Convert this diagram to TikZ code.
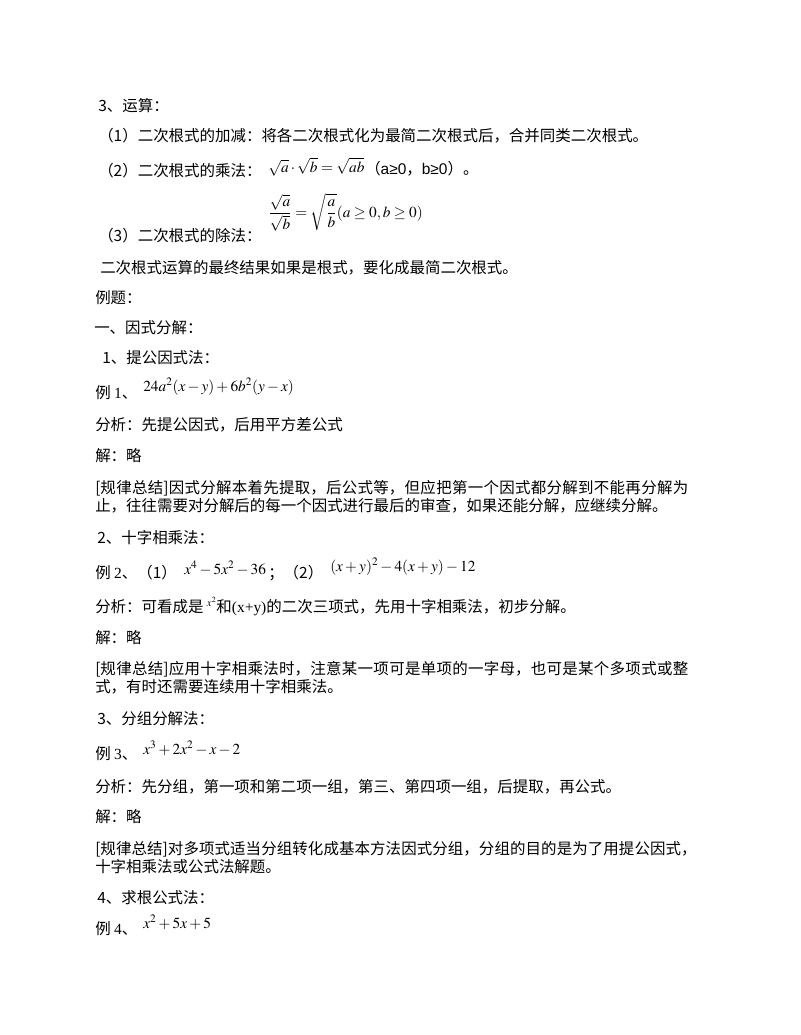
\documentclass[tikz,border=0pt]{standalone}
\usepackage{mathptmx}
\usepackage[no-math]{fontspec}
\setmainfont{Noto Sans CJK SC}
\newfontfamily\tms{Liberation Serif}
\newfontfamily\ars{Liberation Sans}
\XeTeXlinebreaklocale "zh"
\XeTeXlinebreakskip=0pt plus 1pt

\begin{document}
\begin{tikzpicture}[x=0.75pt,y=-0.75pt,
  txt/.style={anchor=base west,inner sep=0pt,font=\fontsize{11.6}{13.9}\selectfont},
  fml/.style={anchor=base west,inner sep=0pt,font=\fontsize{11.5}{13}\selectfont},
  para/.style={txt,text width=444.75pt,align=justify}]

\fill [white] (0,0) rectangle (800,1035);
\useasboundingbox (0,0) rectangle (800,1035);

\node (yunsuan) at (98,111) [txt] {3、运算：};
\node (jiajian) at (98,141) [txt] {（1）二次根式的加减：将各二次根式化为最简二次根式后，合并同类二次根式。};
\node (chengfa) at (98,176) [txt] {（2）二次根式的乘法：};
\node (chengfml) at (268,172) [fml] {$\sqrt{a}\cdot\sqrt{b}=\sqrt{ab}$};
\node (chengcond) at (365,174) [txt] {（{\ars a≥0}，{\ars b≥0}）。};
\node (chufml) at (268,217) [fml] {$\displaystyle\frac{\sqrt{a}}{\sqrt{b}}=\sqrt{\frac{a}{b}}(a\geq 0,b\geq 0)$};
\node (chufa) at (98,241) [txt] {（3）二次根式的除法：};
\node (zuizhong) at (100,273) [txt] {二次根式运算的最终结果如果是根式，要化成最简二次根式。};
\node (liti) at (95,303) [txt] {例题：};
\node (yinshi) at (94,333) [txt] {一、因式分解：};
\node (tigong) at (102,363) [txt] {1、提公因式法：};
\node (li1) at (95,398) [txt] {例 {\tms 1}、};
\node (li1fml) at (143,391) [fml] {$24a^{2}(x-y)+6b^{2}(y-x)$};
\node (fenxi1) at (95,430) [txt] {分析：先提公因式，后用平方差公式};
\node (jie1) at (95,461) [txt] {解：略};
\node (guilv1) at (95,493) [para] {\noindent[规律总结]因式分解本着先提取，后公式等，但应把第一个因式都分解到不能再分解为\linebreak 止，往往需要对分解后的每一个因式进行最后的审查，如果还能分解，应继续分解。};
\node (shizi) at (97,543) [txt] {2、十字相乘法：};
\node (li2) at (95,578) [txt] {例 {\tms 2}、（1）};
\node (li2fmla) at (184,574) [fml] {$x^{4}-5x^{2}-36$};
\node (li2mid) at (268,578) [txt] {；（2）};
\node (li2fmlb) at (330,571) [fml] {$(x+y)^{2}-4(x+y)-12$};
\node (fenxi2) at (95,612) [txt] {分析：可看成是 \raisebox{4pt}{\fontsize{8}{8}\selectfont$x^{2}$}和{\tms(x+y)}的二次三项式，先用十字相乘法，初步分解。};
\node (jie2) at (95,643) [txt] {解：略};
\node (guilv2) at (95,674) [para] {\noindent[规律总结]应用十字相乘法时，注意某一项可是单项的一字母，也可是某个多项式或整\linebreak 式，有时还需要连续用十字相乘法。};
\node (fenzu) at (97,724) [txt] {3、分组分解法：};
\node (li3) at (95,759) [txt] {例 {\tms 3}、};
\node (li3fml) at (143,754) [fml] {$x^{3}+2x^{2}-x-2$};
\node (fenxi3) at (95,792) [txt] {分析：先分组，第一项和第二项一组，第三、第四项一组，后提取，再公式。};
\node (jie3) at (95,822) [txt] {解：略};
\node (guilv3) at (95,854) [para,text width=451pt] {\noindent[规律总结]对多项式适当分组转化成基本方法因式分组，分组的目的是为了用提公因式，\linebreak 十字相乘法或公式法解题。};
\node (qiugen) at (97,903) [txt] {4、求根公式法：};
\node (li4) at (95,934) [txt] {例 {\tms 4}、};
\node (li4fml) at (143,928) [fml] {$x^{2}+5x+5$};

\end{tikzpicture}
\end{document}
